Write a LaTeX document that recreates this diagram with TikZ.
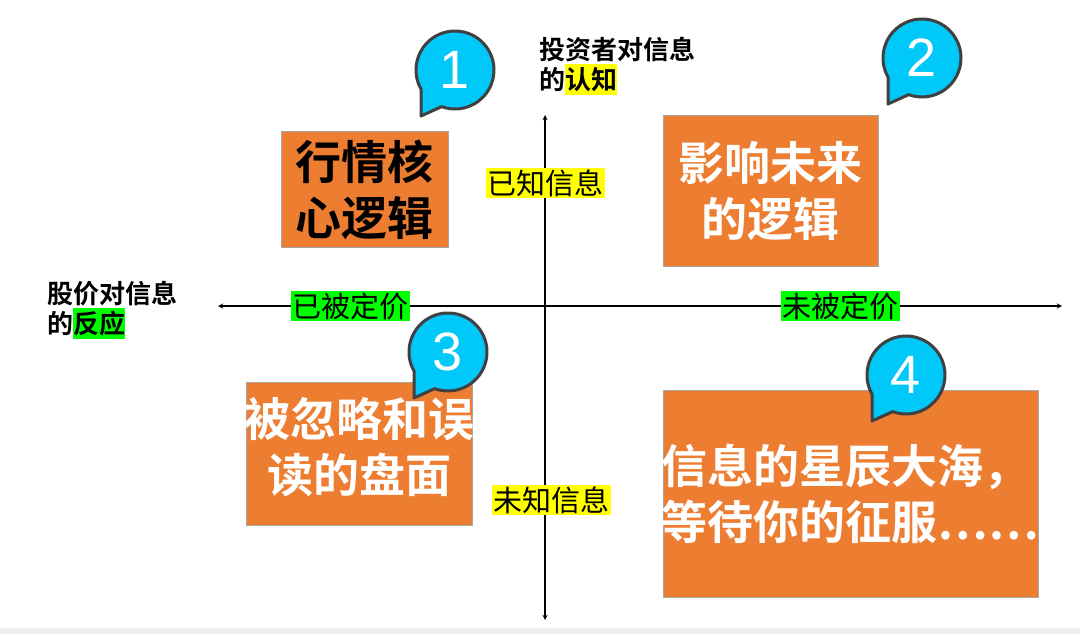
\documentclass[tikz,border=0pt]{standalone}
\usepackage{fontspec}
\setmainfont{Noto Sans CJK SC}
\newfontfamily\cjkb{Noto Sans CJK SC Bold}
\newfontfamily\numf{Liberation Sans}
\definecolor{org}{HTML}{ED7D31}
\definecolor{cyn}{HTML}{00C8F8}
\definecolor{ylw}{HTML}{FFFF00}
\definecolor{grn}{HTML}{00FF00}
\begin{document}
\begin{tikzpicture}[x=1pt,y=-1pt,
  box/.style={fill=org,draw=gray!70,line width=0.6pt},
  boxtext/.style={font=\cjkb\fontsize{46}{56}\selectfont,align=center,inner sep=0pt},
  axlab/.style={font=\fontsize{29}{31}\selectfont,inner sep=1.5pt},
  head/.style={font=\cjkb\fontsize{26}{30}\selectfont,align=left,inner sep=0pt,anchor=north west},
  ax/.style={line width=1.3pt,<->,>=stealth}]
\useasboundingbox (0,0) rectangle (1080,634);
\fill[gray!12] (0,628) rectangle (1080,634);
% axes
\coordinate (L) at (218,306); \coordinate (R) at (1062,306);
\coordinate (T) at (545,115); \coordinate (B) at (545,620);
\draw[ax] (L) -- (R);
\draw[ax] (T) -- (B);
% boxes
\draw[box] (281,131) rectangle (448,247);
\node[boxtext,text=black] (b1) at (364.5,190) {行情核\\心逻辑};
\draw[box] (663,115) rectangle (878,266);
\node[boxtext,text=white] (b2) at (770.5,191) {影响未来\\的逻辑};
\draw[box] (246,382) rectangle (472,525);
\node[boxtext,text=white] (b3) at (359,447) {被忽略和误\\读的盘面};
\draw[box] (663,390) rectangle (1038,597);
\node[boxtext,text=white,align=left] (b4) at (850,494) {信息的星辰大海，\\等待你的征服……};
% bubbles
\foreach \cx/\cy/\n in {455/70/1, 922/58/2, 448/352/3, 906/375/4}{
  \draw[fill=cyn,draw=black!75,line width=3pt,line join=round]
    (\cx,\cy) ++(150:39) arc[start angle=150,end angle=470,radius=39]
    -- (\cx-34,\cy+46) -- cycle;
  \node[text=white,font=\numf\fontsize{54}{54}\selectfont] (n\n) at (\cx,\cy) {\n};
}
% axis labels
\node[axlab,fill=ylw] (k1) at (545,183) {已知信息};
\node[axlab,fill=ylw] (k2) at (551,500) {未知信息};
\node[axlab,fill=grn] (p1) at (350,306) {已被定价};
\node[axlab,fill=grn] (p2) at (840,306) {未被定价};
% headings
\node[head] (h1) at (539,37) {投资者对信息\\的\colorbox{ylw}{\hspace{-3pt}认知\hspace{-3pt}}};
\node[head] (h2) at (47,281) {股价对信息\\的\colorbox{grn}{\hspace{-3pt}反应\hspace{-3pt}}};
\end{tikzpicture}
\end{document}
